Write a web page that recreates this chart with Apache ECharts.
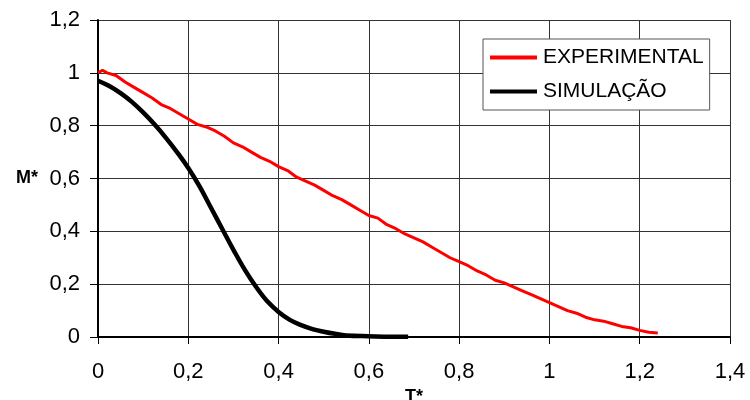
<!DOCTYPE html>
<html>
<head>
<meta charset="utf-8">
<script src="https://cdn.jsdelivr.net/npm/echarts@6/dist/echarts.min.js"></script>
<style>
  html, body { margin: 0; padding: 0; background: #fff; }
  #main { width: 750px; height: 400px; }
</style>
</head>
<body>
<div id="main"></div>
<script>
// data
var expT = [0, 0.01, 0.02, 0.04, 0.06, 0.08, 0.1, 0.12, 0.14, 0.16, 0.18, 0.2, 0.22, 0.24, 0.26, 0.28, 0.3,
  0.32, 0.34, 0.36, 0.38, 0.4, 0.42, 0.44, 0.46, 0.48, 0.5, 0.52, 0.54, 0.56, 0.58, 0.6, 0.62, 0.64, 0.66,
  0.68, 0.7, 0.72, 0.74, 0.76, 0.78, 0.8, 0.82, 0.84, 0.86, 0.88, 0.9, 0.92, 0.94, 0.96, 0.98, 1.0, 1.02,
  1.04, 1.06, 1.08, 1.1, 1.12, 1.14, 1.16, 1.18, 1.2, 1.22, 1.24];
var expM = [1.0, 1.01, 1.0, 0.99, 0.965, 0.945, 0.925, 0.905, 0.88, 0.865, 0.845, 0.825, 0.805, 0.795, 0.78,
  0.76, 0.735, 0.72, 0.7, 0.68, 0.665, 0.645, 0.63, 0.605, 0.59, 0.575, 0.555, 0.535, 0.52, 0.5, 0.48, 0.46,
  0.45, 0.425, 0.41, 0.39, 0.375, 0.36, 0.34, 0.32, 0.3, 0.285, 0.27, 0.25, 0.235, 0.215, 0.205, 0.19, 0.175,
  0.16, 0.145, 0.13, 0.115, 0.1, 0.09, 0.075, 0.065, 0.06, 0.05, 0.04, 0.035, 0.025, 0.018, 0.015];

var simT = [0, 0.025, 0.05, 0.075, 0.1, 0.125, 0.15, 0.175, 0.2, 0.225, 0.25, 0.275, 0.3, 0.325, 0.35,
  0.375, 0.4, 0.425, 0.45, 0.475, 0.5, 0.525, 0.55, 0.6, 0.65, 0.687];
var simM = [0.97, 0.95, 0.923, 0.89, 0.85, 0.805, 0.755, 0.7, 0.64, 0.57, 0.49, 0.41, 0.33, 0.255, 0.19,
  0.135, 0.095, 0.065, 0.045, 0.03, 0.02, 0.012, 0.006, 0.003, 0.001, 0.001];

var seriesNames = ['EXPERIMENTAL', 'SIMULAÇÃO'];

function pairs(xs, ys) {
  return xs.map(function (x, i) { return [x, ys[i]]; });
}
function comma(v) {
  return String(Number(v.toFixed(1))).replace('.', ',');
}

var myChart = echarts.init(document.getElementById('main'));
var font = 'Liberation Sans, Arial, sans-serif';

var option = {
  animation: false,
  backgroundColor: '#fff',
  grid: { left: 98, right: 20, top: 20, bottom: 63, outerBoundsMode: 'none', containLabel: false },
  legend: {
    data: seriesNames,
    orient: 'vertical',
    left: 483,
    top: 39,
    padding: [8, 6, 8, 7],
    itemGap: 13,
    itemWidth: 47,
    itemHeight: 4,
    icon: 'rect',
    backgroundColor: '#fff',
    borderColor: '#555',
    borderWidth: 1,
    borderRadius: 0,
    textStyle: { fontFamily: font, fontSize: 21, color: '#000', padding: [0, 0, 0, 1] }
  },
  xAxis: {
    type: 'value',
    min: 0, max: 1.4, interval: 0.2,
    name: 'T*',
    nameLocation: 'middle',
    nameGap: 50,
    nameTextStyle: { fontFamily: font, fontSize: 18, fontWeight: 'bold', color: '#000' },
    axisLine: { show: true, onZero: false, lineStyle: { color: '#000', width: 2 } },
    axisTick: { show: true, length: 7, lineStyle: { color: '#000', width: 1 } },
    axisLabel: { formatter: comma, fontFamily: font, fontSize: 22, color: '#000', margin: 24 },
    splitLine: { show: true, lineStyle: { color: '#333', width: 1 } }
  },
  yAxis: {
    type: 'value',
    min: 0, max: 1.2, interval: 0.2,
    name: 'M*',
    nameLocation: 'middle',
    nameRotate: 0,
    nameGap: 60,
    nameTextStyle: { fontFamily: font, fontSize: 18, fontWeight: 'bold', color: '#000' },
    axisLine: { show: true, lineStyle: { color: '#000', width: 2 } },
    axisTick: { show: true, length: 8, lineStyle: { color: '#000', width: 1 } },
    axisLabel: { formatter: comma, fontFamily: font, fontSize: 22, color: '#000', margin: 18 },
    splitLine: { show: true, lineStyle: { color: '#333', width: 1 } }
  },
  series: [
    {
      name: seriesNames[0],
      type: 'line',
      showSymbol: false,
      color: '#ff0000',
      lineStyle: { color: '#ff0000', width: 3 },
      data: pairs(expT, expM)
    },
    {
      name: seriesNames[1],
      type: 'line',
      showSymbol: false,
      smooth: 0.4,
      color: '#000',
      lineStyle: { color: '#000', width: 4.5 },
      data: pairs(simT, simM)
    }
  ]
};

myChart.setOption(option);
</script>
</body>
</html>
